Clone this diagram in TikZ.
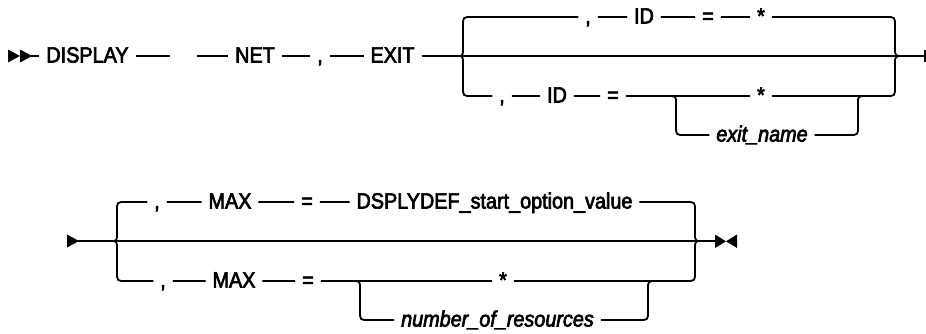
\documentclass[tikz,border=0pt]{standalone}
\usepackage{fontspec}
\setmainfont{Liberation Sans}
\newfontfamily\railfont{Liberation Sans}[FakeStretch=0.9,FakeBold=3]
\begin{document}
\begin{tikzpicture}[x=1pt,y=-1pt,
  rail/.style={line width=1.8pt},
  kw/.style={font=\railfont\fontsize{22}{26}\selectfont, text height=15pt, text depth=2pt, inner xsep=7pt, inner ysep=0pt, outer sep=0pt},
  var/.style={kw, font=\railfont\fontsize{22}{26}\selectfont\itshape},
  tip/.style={fill=black, draw=none}]
\useasboundingbox (0,0) rectangle (926,333);

% ---------- row 1 ----------
\fill[tip] (8,49.5) -- (8,62.5) -- (20,56) -- cycle;
\fill[tip] (20,49.5) -- (20,62.5) -- (32,56) -- cycle;
\coordinate (s1) at (31,56);
\node[kw] (display) at (87.5,56) {DISPLAY};
\coordinate (d1) at (170,56);
\coordinate (n0) at (197,56);
\node[kw] (net) at (255,56) {NET};
\node[kw] (c1) at (320,56) {,};
\node[kw] (exit) at (392.5,56) {EXIT};
\coordinate (e1) at (925,56);
\draw[rail] (s1) -- (display) -- (d1);
\draw[rail] (n0) -- (net) -- (c1) -- (exit) -- (e1);
\draw[line width=3pt] (925,50) -- (925,62);

% top branch
\node[kw] (t1c) at (588,17) {,};
\node[kw] (t1id) at (644,17) {ID};
\node[kw] (t1eq) at (708,17) {=};
\node[kw] (t1st) at (761,17) {*};
\draw[rail] (457,56) .. controls (463,56) .. (463,48) -- (463,26) .. controls (463,17) .. (472,17) -- (t1c) -- (t1id) -- (t1eq) -- (t1st) -- (886,17) .. controls (895,17) .. (895,26) -- (895,48) .. controls (895,56) .. (903,56);

% bottom branch
\node[kw] (b1c) at (502,96) {,};
\node[kw] (b1id) at (557,96) {ID};
\node[kw] (b1eq) at (613,96) {=};
\node[kw] (b1st) at (761,96) {*};
\node[var] (en) at (762,135) {exit\_name};
\draw[rail] (457,56) .. controls (463,56) .. (463,64) -- (463,87) .. controls (463,96) .. (472,96) -- (b1c) -- (b1id) -- (b1eq) -- (b1st) -- (886,96) .. controls (895,96) .. (895,87) -- (895,64) .. controls (895,56) .. (903,56);
\draw[rail] (668,96) .. controls (676,96) .. (676,104) -- (676,126) .. controls (676,135) .. (685,135) -- (en) -- (849,135) .. controls (858,135) .. (858,126) -- (858,104) .. controls (858,96) .. (866,96);

% ---------- row 2 ----------
\fill[tip] (67,234.5) -- (67,247.5) -- (79,241) -- cycle;
\coordinate (s2) at (78,241);
\coordinate (e2) at (715,241);
\draw[rail] (s2) -- (e2);
\fill[tip] (715,234.5) -- (715,248) -- (726,241.3) -- cycle;
\fill[tip] (737,234.5) -- (737,248) -- (726,241.3) -- cycle;

% top branch
\node[kw] (t2c) at (157,202) {,};
\node[kw] (t2max) at (230,202) {MAX};
\node[kw] (t2eq) at (307,202) {=};
\node[kw] (t2val) at (494.5,202) {DSPLYDEF\_start\_option\_value};
\draw[rail] (110,241) .. controls (117,241) .. (117,233) -- (117,211) .. controls (117,202) .. (126,202) -- (t2c) -- (t2max) -- (t2eq) -- (t2val);
\draw[rail] (t2val) -- (686,202) .. controls (695,202) .. (695,211) -- (695,233) .. controls (695,241) .. (702,241);

% bottom branch
\node[kw] (b2c) at (163,281) {,};
\node[kw] (b2max) at (234,281) {MAX};
\node[kw] (b2eq) at (308,281) {=};
\node[kw] (b2st) at (503,281) {*};
\node[var] (nr) at (497.5,320) {number\_of\_resources};
\draw[rail] (110,241) .. controls (117,241) .. (117,249) -- (117,272) .. controls (117,281) .. (126,281) -- (b2c) -- (b2max) -- (b2eq) -- (b2st) -- (686,281) .. controls (695,281) .. (695,272) -- (695,249) .. controls (695,241) .. (702,241);
\draw[rail] (352,281) .. controls (360,281) .. (360,289) -- (360,311) .. controls (360,320) .. (369,320) -- (nr) -- (639,320) .. controls (648,320) .. (648,311) -- (648,289) .. controls (648,281) .. (657,281);
\end{tikzpicture}
\end{document}
